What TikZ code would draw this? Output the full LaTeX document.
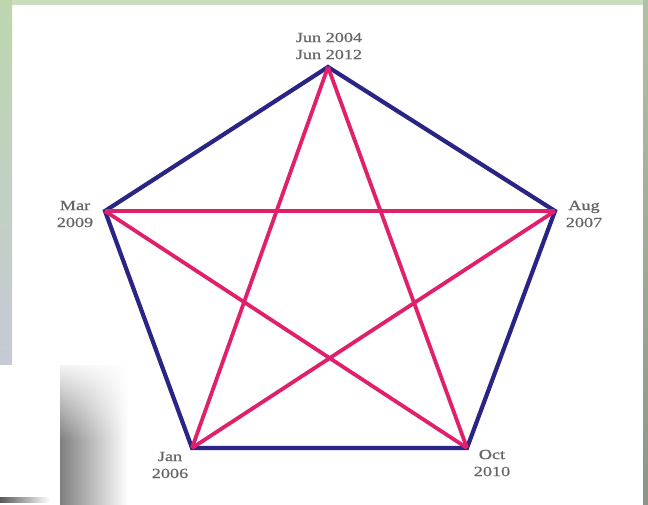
\documentclass[tikz,border=0pt]{standalone}
\usepackage{fontspec}
\newfontfamily\labfont[FakeStretch=1.3,FakeBold=0.8]{Liberation Serif}
\usetikzlibrary{fadings}
\definecolor{pentblue}{HTML}{2A2585}
\definecolor{starpink}{HTML}{E0206A}
\definecolor{labgray}{HTML}{666666}
\definecolor{bggreen}{HTML}{BDD6AE}
\definecolor{bgblue}{HTML}{C6CAD6}
\definecolor{bgright}{HTML}{8C9585}
\tikzfading[name=topfade, top color=transparent!0, bottom color=transparent!100]
\tikzset{
  edgeline/.style={pentblue, line width=4.2pt, line join=miter},
  starline/.style={starpink, line width=3.8pt},
  datelabel/.style={text=labgray, font=\labfont\fontsize{14}{17}\selectfont, align=center, inner sep=0pt},
}
\begin{document}
\begin{tikzpicture}[x=1pt,y=-1pt]
\useasboundingbox (0,0) rectangle (648,505);
% background
\fill[white] (0,0) rectangle (648,505);
\fill[bggreen!80!white] (0,0) rectangle (648,5);
\shade[top color=bggreen, bottom color=bgblue] (0,0) rectangle (12,365);
\shade[top color=bggreen!70!bgright, bottom color=bgright] (643,0) rectangle (648,505);
% overlay box with shadow (bottom left)
\shade[left color=black!50, right color=white] (60,365) rectangle (128,505);
\fill[white, path fading=topfade] (60,358) rectangle (130,440);
\fill[white] (0,365) rectangle (60,505);
\shade[left color=black!65, right color=white] (0,497) rectangle (50,502);
% vertices
\coordinate (T) at (328,67);
\coordinate (L) at (105,211);
\coordinate (R) at (555,211);
\coordinate (BL) at (192,448);
\coordinate (BR) at (467,448);
% pentagon
\draw[edgeline] (T) -- (R) -- (BR) -- (BL) -- (L) -- cycle;
% star
\draw[starline] (T) -- (BL);
\draw[starline] (T) -- (BR);
\draw[starline] (L) -- (R);
\draw[starline] (L) -- (BR);
\draw[starline] (R) -- (BL);
% labels
\node[datelabel] (lT) at (329,46) {Jun 2004\\Jun 2012};
\node[datelabel] (lL) at (75,214) {Mar\\2009};
\node[datelabel] (lR) at (584,214) {Aug\\2007};
\node[datelabel] (lBL) at (170,465) {Jan\\2006};
\node[datelabel] (lBR) at (492,463) {Oct\\2010};
\end{tikzpicture}
\end{document}
